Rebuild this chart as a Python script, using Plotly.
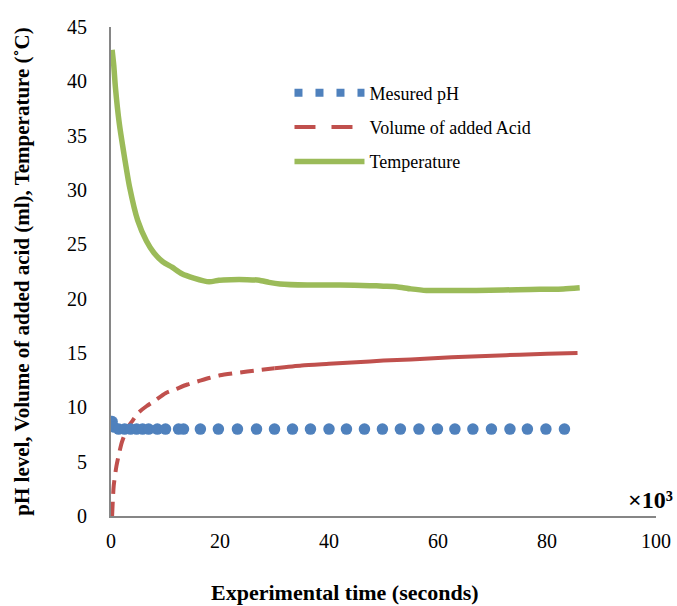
import plotly.graph_objects as go

# ---- data (time in thousands of seconds) ----
ph_time = [0.2, 0.46, 1.4, 2.5, 3.6, 4.7, 5.8, 6.9, 8.5, 10.0, 12.4, 13.3, 16.4, 19.7, 23.2,
           26.7, 30.0, 33.3, 36.6, 40.0, 43.2, 46.5, 49.8, 53.1, 56.5, 59.9, 63.1, 66.4,
           69.8, 73.2, 76.4, 79.8, 83.2]
ph_value = [8.7, 8.2, 8.0, 8.0, 8.0, 8.0, 8.0, 8.0, 8.0, 8.0, 8.0, 8.0, 8.0, 8.0, 8.0,
            8.0, 8.0, 8.0, 8.0, 8.0, 8.0, 8.0, 8.0, 8.0, 8.0, 8.0, 8.0, 8.0,
            8.0, 8.0, 8.0, 8.0, 8.0]

acid_time = [0.2, 0.5, 1.0, 1.5, 2.0, 3.0, 4.0, 5.0, 6.5, 8.0, 10.0, 12.0, 14.0, 16.0, 18.0,
             20.0, 25.0, 30.0, 35.0, 40.0, 45.0, 50.0, 55.0, 60.0, 65.0, 70.0, 75.0, 80.0, 85.6]
acid_volume = [0.0, 2.8, 4.6, 5.8, 6.8, 8.1, 8.8, 9.5, 10.1, 10.6, 11.3, 11.7, 12.1, 12.4, 12.7,
               12.95, 13.3, 13.6, 13.85, 14.0, 14.15, 14.3, 14.4, 14.55, 14.65, 14.75, 14.85, 14.92, 15.0]

temp_time = [0.2, 0.5, 0.8, 1.5, 2.35, 3.4, 4.9, 6.5, 7.9, 9.5, 11.2, 13.0, 15.2, 18.0, 19.8,
             22.0, 25.0, 27.2, 29.0, 31.0, 36.0, 42.0, 47.5, 50.0, 52.4, 55.0, 57.9, 62.0,
             67.0, 72.0, 77.0, 83.0, 86.0]
temperature = [42.9, 41.5, 39.5, 36.2, 33.4, 30.3, 27.2, 25.3, 24.2, 23.4, 22.9, 22.3, 21.9, 21.55, 21.7,
               21.75, 21.75, 21.7, 21.5, 21.35, 21.25, 21.25, 21.2, 21.15, 21.1, 20.9, 20.75, 20.75,
               20.75, 20.8, 20.85, 20.9, 21.0]

x_ticks = [0, 20, 40, 60, 80, 100]
y_ticks = [0, 5, 10, 15, 20, 25, 30, 35, 40, 45]

BLUE = "#4F81BD"
RED = "#C0504D"
GREEN = "#9BBB59"
AXIS = "#868686"
FONT = "Liberation Serif"

# split acid curve: dashed early part, visually solid later part (dense samples)
split = 30.0
a_early_x = [t for t in acid_time if t <= split]
a_early_y = [v for t, v in zip(acid_time, acid_volume) if t <= split]
a_late_x = [t for t in acid_time if t >= split]
a_late_y = [v for t, v in zip(acid_time, acid_volume) if t >= split]

fig = go.Figure()

fig.add_trace(go.Scatter(x=temp_time, y=temperature, mode="lines", showlegend=False,
                         line=dict(color=GREEN, width=5.5, shape="spline", smoothing=0.6)))
fig.add_trace(go.Scatter(x=a_early_x, y=a_early_y, mode="lines", showlegend=False,
                         line=dict(color=RED, width=4, dash="14px,8px", shape="spline", smoothing=0.6)))
fig.add_trace(go.Scatter(x=a_late_x, y=a_late_y, mode="lines", showlegend=False,
                         line=dict(color=RED, width=4, shape="spline", smoothing=0.6)))
fig.add_trace(go.Scatter(x=ph_time, y=ph_value, mode="markers", showlegend=False,
                         marker=dict(color=BLUE, size=11.5, line=dict(width=0))))

# legend entries
fig.add_trace(go.Scatter(x=[None], y=[None], mode="lines", name="Mesured pH", legendgroup="a",
                         line=dict(color=BLUE, width=8, dash="8px,13px")))
fig.add_trace(go.Scatter(x=[None], y=[None], mode="lines", name="Volume of added Acid", legendgroup="b",
                         line=dict(color=RED, width=4, dash="21px,16px")))
fig.add_trace(go.Scatter(x=[None], y=[None], mode="lines", name="Temperature", legendgroup="c",
                         line=dict(color=GREEN, width=5.5)))

fig.update_layout(
    width=677, height=606,
    margin=dict(l=111, r=21, t=27, b=90),
    paper_bgcolor="white", plot_bgcolor="white",
    font=dict(family=FONT, size=20, color="black"),
    showlegend=True,
    legend=dict(x=0.3275, y=0.903, xanchor="left", yanchor="top",
                bgcolor="rgba(0,0,0,0)", font=dict(family=FONT, size=18),
                traceorder="grouped", tracegroupgap=8, itemwidth=70),
    xaxis=dict(range=[0, 100], tickvals=x_ticks, showgrid=False, zeroline=False,
               showline=True, linecolor=AXIS, linewidth=2, ticks="",
               ticklabelstandoff=6, automargin=False),
    yaxis=dict(range=[0, 45], tickvals=y_ticks, showgrid=False, zeroline=False,
               showline=True, linecolor=AXIS, linewidth=2, ticks="",
               ticklabelstandoff=18, automargin=False,
               title=dict(text="<b>pH level, Volume of added acid (ml), Temperature (˚C)</b>",
                          standoff=32, font=dict(family=FONT, size=21))),
    annotations=[
        dict(text="<b>×10³</b>", xref="paper", yref="y", x=1.035, y=1.5,
             xanchor="right", yanchor="middle", showarrow=False,
             font=dict(family=FONT, size=24, color="black")),
        dict(text="<b>Experimental time (seconds)</b>", xref="paper", yref="paper",
             x=0.429, y=-0.157, xanchor="center", yanchor="middle", showarrow=False,
             font=dict(family=FONT, size=22, color="black")),
    ],
)

fig.write_html("out.html")
